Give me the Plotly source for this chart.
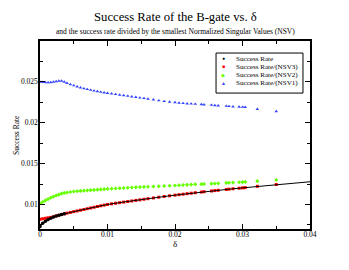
import plotly.graph_objects as go

delta = [0, 0.0004, 0.0008, 0.0012, 0.0016, 0.002, 0.0024, 0.0028, 0.0032, 0.0036,
         0.004, 0.0045, 0.005, 0.0055, 0.006, 0.0065, 0.007, 0.0075, 0.008, 0.0085,
         0.009, 0.0095, 0.01, 0.0106, 0.0112, 0.0118, 0.0124, 0.013, 0.0136, 0.0142,
         0.0148, 0.0154, 0.016, 0.0168, 0.0176, 0.0184, 0.0192, 0.02, 0.0206, 0.0212,
         0.0218, 0.0224, 0.023, 0.0239, 0.0243, 0.0254, 0.0259, 0.0264, 0.0276, 0.028,
         0.0286, 0.0295, 0.03, 0.0304, 0.0322, 0.035]

success = [0.00730, 0.00770, 0.00796, 0.00816, 0.00833, 0.00847, 0.00858, 0.00868, 0.00877, 0.00886,
           0.00894, 0.00903, 0.00912, 0.00921, 0.00930, 0.00939, 0.00948, 0.00957, 0.00966, 0.00975,
           0.00984, 0.00992, 0.01000, 0.01008, 0.01015, 0.01022, 0.01029, 0.01036, 0.01043, 0.01050,
           0.01057, 0.01064, 0.01071, 0.01080, 0.01089, 0.01098, 0.01106, 0.01114, 0.01120, 0.01126,
           0.01132, 0.01138, 0.01144, 0.01152, 0.01156, 0.01165, 0.01170, 0.01174, 0.01184, 0.01187,
           0.01192, 0.01199, 0.01203, 0.01206, 0.01220, 0.01242]

fit_delta = [0, 0.0004, 0.0008, 0.0012, 0.0016, 0.002, 0.0024, 0.0028, 0.0032, 0.0036,
             0.004, 0.005, 0.006, 0.007, 0.008, 0.009, 0.01, 0.012, 0.014, 0.016,
             0.018, 0.02, 0.022, 0.024, 0.026, 0.028, 0.03, 0.032, 0.035, 0.04]
fit_rate = [0.00730, 0.00770, 0.00796, 0.00816, 0.00833, 0.00847, 0.00858, 0.00868, 0.00877, 0.00886,
            0.00894, 0.00912, 0.00930, 0.00948, 0.00966, 0.00984, 0.01000, 0.01025, 0.01050, 0.01071,
            0.01093, 0.01114, 0.01134, 0.01152, 0.01169, 0.01187, 0.01203, 0.01219, 0.01242, 0.01278]

nsv3 = [0.00818, 0.00825, 0.00831, 0.00837, 0.00842, 0.00850, 0.00859, 0.00868, 0.00877, 0.00886,
        0.00894, 0.00903, 0.00912, 0.00921, 0.00930, 0.00939, 0.00948, 0.00957, 0.00966, 0.00975,
        0.00984, 0.00992, 0.01000, 0.01008, 0.01015, 0.01022, 0.01029, 0.01036, 0.01043, 0.01050,
        0.01057, 0.01064, 0.01071, 0.01080, 0.01089, 0.01098, 0.01106, 0.01114, 0.01120, 0.01126,
        0.01132, 0.01138, 0.01144, 0.01152, 0.01156, 0.01165, 0.01170, 0.01174, 0.01184, 0.01187,
        0.01192, 0.01199, 0.01203, 0.01206, 0.01222, 0.01244]

nsv2 = [0.01010, 0.01030, 0.01050, 0.01066, 0.01082, 0.01097, 0.01110, 0.01121, 0.01133, 0.01141,
        0.01147, 0.01153, 0.01159, 0.01163, 0.01166, 0.01169, 0.01172, 0.01175, 0.01178, 0.01181,
        0.01184, 0.01187, 0.01190, 0.01193, 0.01196, 0.01199, 0.01202, 0.01205, 0.01208, 0.01210,
        0.01213, 0.01215, 0.01217, 0.01220, 0.01223, 0.01226, 0.01229, 0.01232, 0.01235, 0.01238,
        0.01240, 0.01243, 0.01246, 0.01249, 0.01251, 0.01255, 0.01257, 0.01259, 0.01264, 0.01266,
        0.01268, 0.01272, 0.01274, 0.01276, 0.01285, 0.01300]

nsv1 = [0.02500, 0.02497, 0.02494, 0.02492, 0.02494, 0.02500, 0.02506, 0.02511, 0.02511, 0.02500,
        0.02485, 0.02469, 0.02455, 0.02442, 0.02430, 0.02419, 0.02409, 0.02400, 0.02391, 0.02383,
        0.02376, 0.02369, 0.02362, 0.02355, 0.02348, 0.02341, 0.02334, 0.02327, 0.02320, 0.02313,
        0.02306, 0.02299, 0.02292, 0.02282, 0.02272, 0.02263, 0.02255, 0.02248, 0.02243, 0.02238,
        0.02234, 0.02232, 0.02229, 0.02225, 0.02222, 0.02217, 0.02213, 0.02209, 0.02204, 0.02201,
        0.02197, 0.02194, 0.02192, 0.02190, 0.02167, 0.02139]

x_ticks = [0, 0.01, 0.02, 0.03, 0.04]
x_labels = ["0", "0.01", "0.02", "0.03", "0.04"]
y_ticks = [0.01, 0.015, 0.02, 0.025]
y_labels = ["0.01", "0.015", "0.02", "0.025"]

legend_names = ["Success Rate", "Success Rate/(NSV3)", "Success Rate/(NSV2)", "Success Rate/(NSV1)"]
legend_colors = ["black", "#ff0000", "#66ff00", "#3344ff"]
legend_glyphs = ["●", "■", "◆", "▲"]

SERIF = "Liberation Serif, Times New Roman, serif"

fig = go.Figure()
fig.add_trace(go.Scatter(x=delta, y=nsv3, mode="markers", name=legend_names[1],
                         marker=dict(symbol="square", size=3, color="#ff0000", line=dict(width=0))))
fig.add_trace(go.Scatter(x=fit_delta, y=fit_rate, mode="lines", name="fit",
                         line=dict(color="black", width=1)))
fig.add_trace(go.Scatter(x=delta[:10], y=success[:10], mode="markers", name=legend_names[0],
                         marker=dict(symbol="circle", size=3.5, color="black", line=dict(width=0))))
fig.add_trace(go.Scatter(x=delta, y=nsv2, mode="markers", name=legend_names[2],
                         marker=dict(symbol="diamond", size=3.2, color="#66ff00", line=dict(width=0))))
fig.add_trace(go.Scatter(x=delta, y=nsv1, mode="markers", name=legend_names[3],
                         marker=dict(symbol="triangle-up", size=3.2, color="#3344ff", line=dict(width=0))))

axis_common = dict(showline=True, linecolor="black", linewidth=1.5, mirror="ticks",
                   ticks="inside", ticklen=5, tickwidth=1, tickcolor="black",
                   showgrid=False, zeroline=False,
                   tickfont=dict(family=SERIF, size=7.5, color="black"))

annotations = [
    dict(text="Success Rate of the B-gate vs. δ", x=0.5, y=1.128, xref="paper", yref="paper",
         xanchor="center", yanchor="middle", showarrow=False,
         font=dict(family=SERIF, size=12.7, color="black")),
    dict(text="and the success rate divided by the smallest Normalized Singular Values (NSV)",
         x=0.5, y=1.048, xref="paper", yref="paper", xanchor="center", yanchor="middle",
         showarrow=False, font=dict(family=SERIF, size=7.5, color="black")),
    dict(text="Success Rate", x=-0.089, y=0.5, xref="paper", yref="paper", textangle=-90,
         xanchor="center", yanchor="middle", showarrow=False,
         font=dict(family=SERIF, size=7.5, color="black")),
    dict(text="δ", x=0.5, y=-0.08, xref="paper", yref="paper",
         xanchor="center", yanchor="middle", showarrow=False,
         font=dict(family=SERIF, size=9, color="black")),
]
row_y = [0.905, 0.862, 0.818, 0.774]
for name, col, gl, yy in zip(legend_names, legend_colors, legend_glyphs, row_y):
    annotations.append(dict(text=gl, x=0.678, y=yy, xref="paper", yref="paper",
                            xanchor="center", yanchor="middle", showarrow=False, borderpad=0,
                            font=dict(family=SERIF, size=5, color=col)))
    annotations.append(dict(text=name, x=0.722, y=yy, xref="paper", yref="paper",
                            xanchor="left", yanchor="middle", showarrow=False, borderpad=0,
                            font=dict(family=SERIF, size=7.1, color="black")))

fig.update_layout(
    width=349, height=270,
    margin=dict(l=32, r=47, t=33, b=49, autoexpand=False),
    paper_bgcolor="white", plot_bgcolor="white",
    showlegend=False,
    xaxis=dict(range=[0, 0.04], tickvals=x_ticks, ticktext=x_labels, ticklabelstandoff=-3,
               minor=dict(ticks="inside", ticklen=3, tickcolor="black", dtick=0.005, tick0=0),
               **axis_common),
    yaxis=dict(range=[0.007, 0.030], tickvals=y_ticks, ticktext=y_labels, ticklabelstandoff=-1,
               minor=dict(ticks="inside", ticklen=3, tickcolor="black", dtick=0.0025, tick0=0.0075),
               **axis_common),
    shapes=[dict(type="rect", xref="paper", yref="paper", x0=0.652, x1=0.974, y0=0.723, y1=0.936,
                 line=dict(color="black", width=1), fillcolor="white", layer="above")],
    annotations=annotations,
)

fig.write_html("out.html")
